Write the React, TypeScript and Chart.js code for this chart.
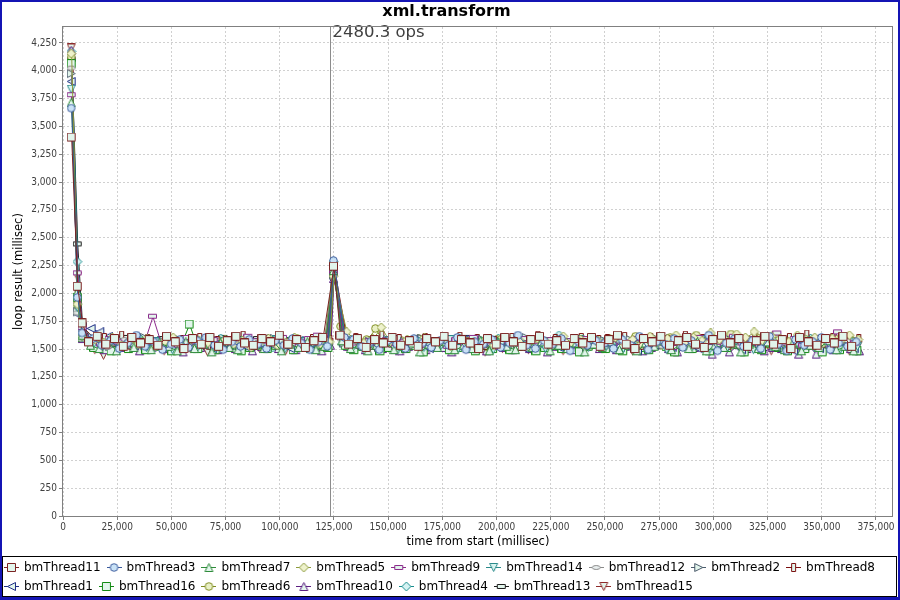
import React, { useEffect, useRef } from 'react';
import { Chart, registerables } from 'chart.js';

Chart.register(...registerables);

const TITLE = 'xml.transform';
const X_TITLE = 'time from start (millisec)';
const Y_TITLE = 'loop result (millisec)';
const MARKER_TIME = 123150;
const MARKER_LABEL = '2480.3 ops';
const X_MAX = 382850;
const Y_MAX = 4393;
const X_TICKS = [0, 25000, 50000, 75000, 100000, 125000, 150000, 175000, 200000, 225000, 250000, 275000, 300000, 325000, 350000, 375000];
const Y_TICKS = [0, 250, 500, 750, 1000, 1250, 1500, 1750, 2000, 2250, 2500, 2750, 3000, 3250, 3500, 3750, 4000, 4250];

const TIMES = [4000, 6800, 9000,
  12000, 16000, 20000, 24000, 28000, 32000, 36000, 40000, 44000, 48000, 52000, 56000, 60000, 64000,
  68000, 72000, 76000, 80000, 84000, 88000, 92000, 96000, 100000, 104000, 108000, 112000, 116000, 120000,
  125000,
  128000, 132000, 136000, 140000, 144000, 148000, 152000, 156000, 160000, 164000, 168000, 172000, 176000, 180000, 184000,
  188000, 192000, 196000, 200000, 204000, 208000, 212000, 216000, 220000, 224000, 228000, 232000, 236000, 240000, 244000,
  248000, 252000, 256000, 260000, 264000, 268000, 272000, 276000, 280000, 284000, 288000, 292000, 296000, 300000, 304000,
  308000, 312000, 316000, 320000, 324000, 328000, 332000, 336000, 340000, 344000, 348000, 352000, 356000, 360000, 364000];
// points where all threads report together (start-up peak and the spike)
const ALIGNED_INDEX = [0, 1, 2, 31];
// sampling phase of each thread (ms) in the steady part
const SERIES_PHASE = [0, 2100, 900, 3000, 1500, 2700, 600, 1800, 3300, 1200, 2400, 300, 3600, 1000, 2000, 2900];

const SERIES_NAMES = ['bmThread11', 'bmThread3', 'bmThread7', 'bmThread5', 'bmThread9', 'bmThread14', 'bmThread12', 'bmThread2',
  'bmThread8', 'bmThread1', 'bmThread16', 'bmThread6', 'bmThread10', 'bmThread4', 'bmThread13', 'bmThread15'];

const BM11 = [3400, 2060, 1730,
  1560, 1610, 1540, 1590, 1520, 1600, 1550, 1580, 1530, 1610, 1560, 1500, 1590, 1540, 1600, 1520, 1570, 1610, 1550, 1530, 1590, 1560, 1620, 1540, 1580, 1510, 1570, 1600,
  2240,
  1620, 1540, 1590, 1510, 1580, 1550, 1600, 1530, 1570, 1520, 1590, 1560, 1610, 1530, 1580, 1550, 1500, 1590, 1540, 1600, 1560, 1520, 1580, 1610, 1540, 1570, 1530, 1590, 1550, 1600,
  1520, 1580, 1620, 1540, 1500, 1590, 1560, 1610, 1530, 1570, 1600, 1540, 1510, 1580, 1620, 1550, 1590, 1520, 1570, 1610, 1540, 1580, 1500, 1600, 1560, 1530, 1590, 1550, 1610, 1520];
const BM3 = [3660, 1960, 1640,
  1590, 1530, 1570, 1500, 1550, 1620, 1520, 1560, 1490, 1540, 1580, 1510, 1570, 1600, 1530, 1490, 1560, 1520, 1580, 1540, 1500, 1570, 1530, 1590, 1550, 1490, 1560, 1520,
  2290,
  1600, 1580, 1520, 1560, 1490, 1570, 1540, 1500, 1590, 1550, 1510, 1570, 1530, 1600, 1490, 1560, 1540, 1580, 1510, 1550, 1620, 1530, 1500, 1570, 1540, 1590, 1480, 1560, 1530, 1570,
  1550, 1500, 1580, 1530, 1610, 1490, 1560, 1540, 1590, 1510, 1570, 1530, 1620, 1480, 1550, 1590, 1520, 1570, 1500, 1610, 1540, 1480, 1580, 1530, 1560, 1600, 1490, 1550, 1520, 1560];
const BM7 = [3710, 2010, 1620,
  1530, 1500, 1560, 1480, 1540, 1510, 1570, 1490, 1550, 1520, 1480, 1560, 1500, 1540, 1470, 1550, 1510, 1490, 1560, 1530, 1500, 1570, 1480, 1540, 1510, 1560, 1490, 1520,
  2200,
  1570, 1500, 1540, 1480, 1530, 1560, 1490, 1520, 1550, 1470, 1540, 1510, 1560, 1490, 1530, 1500, 1570, 1480, 1550, 1520, 1490, 1540, 1510, 1560, 1480, 1530, 1500, 1550, 1470, 1540,
  1510, 1560, 1490, 1530, 1480, 1550, 1520, 1570, 1490, 1540, 1500, 1560, 1480, 1530, 1510, 1550, 1470, 1540, 1500, 1560, 1520, 1490, 1550, 1480, 1530, 1510, 1570, 1490, 1520, 1480];
const BM5 = [4150, 1900, 1610,
  1580, 1550, 1600, 1530, 1570, 1540, 1590, 1520, 1560, 1600, 1540, 1510, 1570, 1550, 1520, 1580, 1540, 1570, 1510, 1560, 1590, 1530, 1550, 1600, 1520, 1570, 1540, 1560,
  2150,
  1650, 1580, 1550, 1590, 1690, 1560, 1530, 1580, 1550, 1600, 1540, 1570, 1520, 1590, 1560, 1540, 1580, 1530, 1600, 1550, 1570, 1520, 1590, 1560, 1540, 1610, 1550, 1580, 1530, 1570,
  1570, 1600, 1550, 1580, 1540, 1610, 1560, 1590, 1620, 1550, 1600, 1570, 1640, 1580, 1560, 1630, 1600, 1650, 1570, 1610, 1590, 1560, 1620, 1580, 1600, 1550, 1590, 1570, 1620, 1580];
const BM9 = [3780, 2180, 1690,
  1570, 1540, 1590, 1560, 1520, 1580, 1550, 1790, 1540, 1570, 1530, 1600, 1560, 1520, 1580, 1540, 1590, 1550, 1610, 1570, 1530, 1580, 1600, 1540, 1560, 1590, 1620, 1580,
  2180,
  1590, 1550, 1520, 1570, 1540, 1580, 1510, 1560, 1590, 1530, 1570, 1550, 1520, 1580, 1540, 1600, 1530, 1560, 1510, 1570, 1550, 1590, 1530, 1560, 1580, 1520, 1570, 1540, 1590, 1560,
  1540, 1580, 1520, 1560, 1590, 1530, 1570, 1550, 1510, 1580, 1540, 1600, 1560, 1520, 1570, 1610, 1550, 1590, 1530, 1570, 1640, 1550, 1590, 1530, 1560, 1600, 1540, 1650, 1570, 1550];
const BM14 = [3830, 1870, 1600,
  1550, 1520, 1570, 1500, 1540, 1580, 1510, 1560, 1530, 1490, 1550, 1570, 1520, 1540, 1500, 1560, 1530, 1570, 1510, 1550, 1520, 1580, 1500, 1540, 1560, 1520, 1550, 1530,
  2170,
  1560, 1530, 1500, 1550, 1520, 1570, 1490, 1540, 1560, 1510, 1550, 1530, 1580, 1500, 1540, 1520, 1560, 1490, 1550, 1530, 1570, 1510, 1540, 1500, 1560, 1520, 1550, 1580, 1510, 1540,
  1520, 1560, 1500, 1540, 1570, 1510, 1550, 1490, 1530, 1560, 1520, 1580, 1500, 1540, 1510, 1570, 1530, 1490, 1550, 1520, 1560, 1500, 1540, 1570, 1510, 1550, 1530, 1490, 1560, 1520];
const BM12 = [4020, 1820, 1580,
  1540, 1570, 1510, 1550, 1580, 1530, 1560, 1500, 1570, 1540, 1520, 1560, 1590, 1530, 1550, 1510, 1570, 1540, 1560, 1520, 1580, 1550, 1510, 1570, 1530, 1560, 1540, 1550,
  2210,
  1580, 1550, 1520, 1560, 1530, 1570, 1550, 1510, 1540, 1580, 1520, 1560, 1540, 1570, 1510, 1550, 1530, 1590, 1540, 1520, 1560, 1550, 1580, 1530, 1510, 1570, 1540, 1560, 1520, 1550,
  1560, 1530, 1570, 1510, 1550, 1580, 1540, 1520, 1560, 1590, 1530, 1550, 1510, 1570, 1540, 1580, 1520, 1560, 1530, 1550, 1600, 1540, 1510, 1570, 1550, 1530, 1580, 1520, 1560, 1540];
const BM2 = [3970, 1830, 1650,
  1600, 1560, 1520, 1580, 1540, 1560, 1600, 1530, 1570, 1510, 1580, 1550, 1530, 1570, 1590, 1540, 1560, 1520, 1580, 1550, 1530, 1590, 1560, 1540, 1520, 1570, 1550, 1530,
  2160,
  1550, 1570, 1530, 1560, 1510, 1580, 1540, 1560, 1530, 1590, 1550, 1520, 1570, 1540, 1560, 1510, 1580, 1550, 1530, 1570, 1540, 1600, 1520, 1560, 1550, 1580, 1530, 1570, 1510, 1550,
  1570, 1540, 1520, 1580, 1550, 1530, 1590, 1560, 1510, 1550, 1580, 1540, 1570, 1520, 1600, 1550, 1530, 1570, 1510, 1560, 1580, 1530, 1550, 1600, 1520, 1570, 1540, 1510, 1580, 1530];
const BM8 = [4000, 2000, 1700,
  1580, 1600, 1560, 1620, 1530, 1570, 1590, 1550, 1610, 1540, 1580, 1560, 1600, 1530, 1570, 1550, 1590, 1620, 1540, 1580, 1560, 1600, 1550, 1570, 1530, 1590, 1560, 1580,
  2250,
  1560, 1600, 1540, 1580, 1620, 1550, 1590, 1530, 1570, 1600, 1550, 1580, 1540, 1610, 1560, 1590, 1530, 1570, 1550, 1600, 1540, 1580, 1620, 1560, 1590, 1530, 1570, 1600, 1550, 1580,
  1590, 1550, 1610, 1570, 1530, 1600, 1560, 1580, 1540, 1620, 1570, 1590, 1550, 1600, 1530, 1580, 1560, 1610, 1540, 1590, 1560, 1600, 1540, 1630, 1570, 1550, 1600, 1580, 1540, 1590];
const BM1 = [3900, 1810, 1690,
  1680, 1650, 1610, 1580, 1560, 1530, 1570, 1510, 1550, 1590, 1520, 1560, 1540, 1580, 1500, 1550, 1530, 1570, 1510, 1560, 1590, 1530, 1550, 1500, 1570, 1540, 1580, 1560,
  2190,
  1600, 1560, 1530, 1570, 1510, 1550, 1590, 1520, 1560, 1540, 1500, 1570, 1530, 1550, 1580, 1510, 1560, 1540, 1520, 1570, 1550, 1500, 1580, 1530, 1560, 1510, 1550, 1590, 1530, 1560,
  1530, 1570, 1510, 1550, 1480, 1560, 1530, 1590, 1510, 1550, 1570, 1500, 1540, 1560, 1520, 1580, 1490, 1550, 1530, 1570, 1510, 1540, 1480, 1560, 1530, 1500, 1570, 1520, 1550, 1500];
const BM16 = [4060, 1960, 1600,
  1510, 1540, 1480, 1530, 1500, 1550, 1490, 1520, 1540, 1480, 1530, 1720, 1500, 1540, 1490, 1520, 1550, 1480, 1510, 1540, 1500, 1530, 1560, 1490, 1520, 1500, 1540, 1510,
  2230,
  1530, 1490, 1520, 1550, 1480, 1510, 1540, 1500, 1530, 1470, 1520, 1550, 1490, 1510, 1540, 1480, 1530, 1500, 1560, 1490, 1520, 1540, 1480, 1510, 1530, 1500, 1550, 1470, 1520, 1540,
  1500, 1530, 1480, 1550, 1510, 1490, 1540, 1520, 1470, 1530, 1500, 1550, 1480, 1520, 1510, 1540, 1470, 1530, 1490, 1550, 1510, 1480, 1530, 1500, 1540, 1470, 1520, 1490, 1530, 1480];
const BM6 = [4120, 1890, 1620,
  1560, 1590, 1540, 1570, 1520, 1550, 1580, 1530, 1560, 1510, 1570, 1540, 1590, 1550, 1530, 1570, 1510, 1560, 1580, 1540, 1520, 1570, 1550, 1530, 1590, 1540, 1560, 1520,
  2270,
  1700, 1560, 1540, 1580, 1680, 1550, 1520, 1570, 1540, 1590, 1530, 1560, 1580, 1520, 1550, 1570, 1540, 1510, 1580, 1550, 1530, 1570, 1540, 1590, 1520, 1560, 1550, 1580, 1530, 1560,
  1550, 1590, 1530, 1570, 1610, 1550, 1580, 1530, 1600, 1560, 1540, 1620, 1570, 1590, 1550, 1630, 1580, 1560, 1600, 1540, 1620, 1570, 1550, 1600, 1530, 1580, 1560, 1590, 1540, 1570];
const BM10 = [4180, 1940, 1590,
  1520, 1490, 1550, 1510, 1540, 1480, 1530, 1560, 1500, 1520, 1470, 1540, 1510, 1550, 1490, 1530, 1500, 1560, 1480, 1520, 1540, 1500, 1530, 1490, 1550, 1510, 1480, 1530,
  2130,
  1520, 1550, 1490, 1530, 1500, 1560, 1480, 1520, 1540, 1490, 1530, 1510, 1470, 1540, 1500, 1530, 1480, 1550, 1510, 1490, 1540, 1500, 1530, 1470, 1520, 1550, 1490, 1510, 1540, 1500,
  1530, 1490, 1520, 1550, 1480, 1510, 1540, 1500, 1470, 1530, 1510, 1550, 1450, 1520, 1470, 1540, 1500, 1530, 1480, 1510, 1500, 1530, 1450, 1540, 1450, 1520, 1490, 1530, 1500, 1480];
const BM4 = [4170, 2280, 1650,
  1570, 1530, 1560, 1590, 1540, 1510, 1570, 1550, 1520, 1580, 1540, 1560, 1500, 1570, 1530, 1590, 1550, 1520, 1560, 1540, 1580, 1510, 1550, 1570, 1530, 1560, 1500, 1540,
  2280,
  1540, 1580, 1560, 1520, 1570, 1540, 1590, 1510, 1550, 1570, 1530, 1560, 1500, 1580, 1540, 1570, 1520, 1550, 1590, 1530, 1560, 1540, 1510, 1570, 1550, 1620, 1530, 1560, 1540, 1580,
  1560, 1520, 1590, 1540, 1570, 1510, 1550, 1580, 1530, 1560, 1600, 1540, 1570, 1520, 1550, 1590, 1530, 1560, 1510, 1580, 1540, 1570, 1530, 1550, 1590, 1520, 1560, 1540, 1570, 1510];
const BM13 = [4100, 2440, 1720,
  1550, 1580, 1530, 1560, 1600, 1540, 1570, 1520, 1590, 1550, 1570, 1530, 1580, 1560, 1520, 1600, 1550, 1570, 1540, 1590, 1530, 1560, 1580, 1520, 1570, 1550, 1590, 1540,
  2260,
  1570, 1530, 1560, 1590, 1540, 1570, 1520, 1560, 1590, 1540, 1580, 1550, 1530, 1570, 1600, 1540, 1560, 1520, 1580, 1550, 1590, 1530, 1570, 1540, 1560, 1600, 1550, 1520, 1580, 1560,
  1540, 1580, 1560, 1520, 1590, 1550, 1570, 1530, 1600, 1560, 1540, 1580, 1520, 1570, 1550, 1610, 1530, 1580, 1560, 1540, 1590, 1520, 1570, 1550, 1600, 1540, 1580, 1560, 1530, 1570];
const BM15 = [4200, 2150, 1610,
  1490, 1440, 1520, 1550, 1500, 1540, 1510, 1560, 1480, 1530, 1550, 1500, 1520, 1470, 1540, 1510, 1560, 1490, 1530, 1500, 1550, 1520, 1480, 1540, 1510, 1530, 1500, 1550,
  2140,
  1520, 1560, 1500, 1540, 1510, 1550, 1480, 1530, 1560, 1500, 1520, 1540, 1490, 1550, 1510, 1530, 1470, 1540, 1500, 1560, 1520, 1490, 1540, 1510, 1550, 1480, 1530, 1500, 1540, 1520,
  1500, 1540, 1520, 1480, 1550, 1510, 1530, 1490, 1560, 1520, 1500, 1540, 1470, 1530, 1510, 1550, 1490, 1520, 1540, 1480, 1530, 1510, 1560, 1500, 1520, 1490, 1540, 1510, 1480, 1530];

const SERIES_VALUES = [BM11, BM3, BM7, BM5, BM9, BM14, BM12, BM2, BM8, BM1, BM16, BM6, BM10, BM4, BM13, BM15];

const SERIES_COLORS = ['#7b2323', '#3a5a9c', '#2e8b3a', '#8c9a3c', '#8b2a8b', '#2a8a8a', '#8a8a8a', '#4b5b6b',
  '#7a0f0f', '#1f2f86', '#138a13', '#7d8a1e', '#5c1f82', '#178c8c', '#1e1e1e', '#8e2b2b'];
const SERIES_FILLS = ['#e2f5ec', '#c9e2f6', '#e2f5ec', '#eef2cc', '#e2f5ec', '#d8f4f0', '#e8eeee', '#e2f5ec',
  '#e2f5ec', '#e2f5ec', '#e2f5ec', '#e9f0c6', '#e2f5ec', '#d6f3f3', '#e2f5ec', '#e2f5ec'];
const SERIES_SHAPES = ['square', 'circle', 'up', 'diamond', 'hrect', 'down', 'hellipse', 'right',
  'vrect', 'left', 'square', 'circle', 'up', 'diamond', 'hrect', 'down'];

const SANS = "'DejaVu Sans', sans-serif";
const TICK_FONT = "'DejaVu Sans Condensed', 'DejaVu Sans', sans-serif";

function shapePath(ctx: CanvasRenderingContext2D, shape: string, cx: number, cy: number) {
  ctx.beginPath();
  switch (shape) {
    case 'square': ctx.rect(cx - 4, cy - 4, 8, 8); break;
    case 'circle': ctx.arc(cx, cy, 3.8, 0, Math.PI * 2); break;
    case 'up': ctx.moveTo(cx, cy - 4); ctx.lineTo(cx + 4, cy + 4); ctx.lineTo(cx - 4, cy + 4); ctx.closePath(); break;
    case 'down': ctx.moveTo(cx - 4, cy - 4); ctx.lineTo(cx + 4, cy - 4); ctx.lineTo(cx, cy + 4); ctx.closePath(); break;
    case 'right': ctx.moveTo(cx - 4, cy - 4); ctx.lineTo(cx + 4, cy); ctx.lineTo(cx - 4, cy + 4); ctx.closePath(); break;
    case 'left': ctx.moveTo(cx + 4, cy - 4); ctx.lineTo(cx - 4, cy); ctx.lineTo(cx + 4, cy + 4); ctx.closePath(); break;
    case 'diamond': ctx.moveTo(cx, cy - 4.5); ctx.lineTo(cx + 4.5, cy); ctx.lineTo(cx, cy + 4.5); ctx.lineTo(cx - 4.5, cy); ctx.closePath(); break;
    case 'hrect': ctx.rect(cx - 4, cy - 2, 8, 4); break;
    case 'vrect': ctx.rect(cx - 2, cy - 4, 4, 8); break;
    case 'hellipse': ctx.ellipse(cx, cy, 4, 2, 0, 0, Math.PI * 2); break;
    default: ctx.rect(cx - 4, cy - 4, 8, 8);
  }
}

function makeMarker(shape: string, stroke: string, fill: string): HTMLCanvasElement {
  const c = document.createElement('canvas');
  c.width = 10; c.height = 10;
  const ctx = c.getContext('2d')!;
  ctx.lineWidth = 1;
  ctx.strokeStyle = stroke;
  ctx.fillStyle = fill;
  shapePath(ctx, shape, 4.5, 4.5);
  ctx.fill();
  ctx.stroke();
  return c;
}

function makeLegendIcon(shape: string, stroke: string, fill: string): HTMLCanvasElement {
  const c = document.createElement('canvas');
  c.width = 15; c.height = 10;
  const ctx = c.getContext('2d')!;
  ctx.lineWidth = 1;
  ctx.strokeStyle = stroke;
  ctx.beginPath();
  ctx.moveTo(0, 4.5); ctx.lineTo(15, 4.5);
  ctx.stroke();
  ctx.fillStyle = fill;
  shapePath(ctx, shape, 7.5, 4.5);
  ctx.fill();
  ctx.stroke();
  return c;
}

const decorPlugin = {
  id: 'decor',
  afterLayout(chart: any) {
    if (chart.legend) chart.legend.left -= 2;
  },
  beforeDraw(chart: any) {
    const ctx = chart.ctx;
    ctx.save();
    ctx.fillStyle = '#ffffff';
    ctx.fillRect(0, 0, chart.width, chart.height);
    ctx.restore();
  },
  beforeDatasetsDraw(chart: any) {
    const { ctx, chartArea: a, scales } = chart;
    const px = Math.round(scales.x.getPixelForValue(MARKER_TIME)) + 0.5;
    ctx.save();
    ctx.strokeStyle = '#8c8c8c';
    ctx.lineWidth = 1;
    ctx.beginPath();
    ctx.moveTo(px, a.top);
    ctx.lineTo(px, a.bottom);
    ctx.stroke();
    ctx.fillStyle = '#404040';
    ctx.font = `16.5px ${SANS}`;
    ctx.textAlign = 'left';
    ctx.textBaseline = 'top';
    ctx.fillText(MARKER_LABEL, px + 2, a.top - 3);
    ctx.restore();
  },
  afterDraw(chart: any) {
    const { ctx, chartArea: a } = chart;
    ctx.save();
    ctx.strokeStyle = '#808080';
    ctx.lineWidth = 1;
    ctx.strokeRect(a.left - 0.5, a.top - 0.5, a.right - a.left, a.bottom - a.top + 1);
    ctx.strokeStyle = '#000000';
    ctx.strokeRect(2.5, 556.5, 894, 40);
    ctx.strokeStyle = '#1414b4';
    ctx.lineWidth = 2;
    ctx.strokeRect(1, 1, chart.width - 2, chart.height - 2);
    ctx.fillStyle = '#1414b4';
    ctx.fillRect(0, chart.height - 3, chart.width, 3);
    ctx.restore();
  },
};

export default function App() {
  const ref = useRef<HTMLCanvasElement>(null);
  useEffect(() => {
    document.body.style.margin = '0';
    const canvas = ref.current;
    if (!canvas) return;
    const markers = SERIES_SHAPES.map((s, i) => makeMarker(s, SERIES_COLORS[i], SERIES_FILLS[i]));
    const icons = SERIES_SHAPES.map((s, i) => makeLegendIcon(s, SERIES_COLORS[i], SERIES_FILLS[i]));
    const datasets = SERIES_NAMES.map((name, i) => ({
      label: name,
      data: SERIES_VALUES[i].map((y, k) => ({
        x: TIMES[k] + (ALIGNED_INDEX.includes(k) ? 0 : SERIES_PHASE[i]),
        y,
      })),
      borderColor: SERIES_COLORS[i],
      backgroundColor: SERIES_FILLS[i],
      borderWidth: 1,
      pointStyle: markers[i],
      pointRadius: 4,
      pointHoverRadius: 4,
      tension: 0,
      fill: false,
    }));
    const chart = new Chart(canvas, {
      type: 'line',
      data: { datasets },
      plugins: [decorPlugin],
      options: {
        responsive: false,
        animation: false,
        events: [],
        layout: { padding: { left: 0, right: 7, top: 0, bottom: -3 } },
        plugins: {
          tooltip: { enabled: false },
          title: {
            display: true,
            text: TITLE,
            color: '#000000',
            font: { family: SANS, size: 16, weight: 'bold', lineHeight: 1.2 },
            padding: { top: 2.5, bottom: 5.3 },
          },
          legend: {
            display: true,
            position: 'bottom',
            align: 'start',
            labels: {
              usePointStyle: true,
              pointStyleWidth: 13,
              padding: 7,
              color: '#000000',
              font: { family: SANS, size: 12 },
              generateLabels: (ch: any) => ch.data.datasets.map((ds: any, i: number) => ({
                text: ds.label,
                pointStyle: icons[i],
                fillStyle: SERIES_FILLS[i],
                strokeStyle: SERIES_COLORS[i],
                lineWidth: 1,
                hidden: false,
                datasetIndex: i,
                fontColor: '#000000',
              })),
            },
          },
        },
        scales: {
          x: {
            type: 'linear',
            min: 0,
            max: X_MAX,
            afterFit: (s: any) => { s.height = 39; },
            afterBuildTicks: (s: any) => { s.ticks = X_TICKS.map((v) => ({ value: v })); },
            ticks: {
              autoSkip: false,
              maxRotation: 0,
              minRotation: 0,
              padding: 1,
              color: '#404040',
              font: { family: TICK_FONT, size: 10 },
              callback: (v: any) => Number(v).toLocaleString('en-US'),
            },
            grid: { color: '#d0d0d0', tickColor: '#808080', tickLength: 4, lineWidth: 1 },
            border: { display: false, dash: [2, 2] },
            title: {
              display: true,
              text: X_TITLE,
              color: '#000000',
              font: { family: SANS, size: 11.5, lineHeight: 1.2 },
              padding: { top: 1, bottom: 6 },
            },
          },
          y: {
            type: 'linear',
            min: 0,
            max: Y_MAX,
            afterFit: (s: any) => { s.width = 63; },
            afterBuildTicks: (s: any) => { s.ticks = Y_TICKS.map((v) => ({ value: v })); },
            ticks: {
              autoSkip: false,
              padding: 2,
              color: '#404040',
              font: { family: TICK_FONT, size: 10 },
              callback: (v: any) => Number(v).toLocaleString('en-US'),
            },
            grid: { color: '#d0d0d0', tickColor: '#808080', tickLength: 4, lineWidth: 1 },
            border: { display: false, dash: [2, 2] },
            title: {
              display: true,
              text: Y_TITLE,
              color: '#000000',
              font: { family: SANS, size: 11.5, lineHeight: 1.2 },
              padding: { top: 12, bottom: 2 },
            },
          },
        },
      },
    } as any);
    return () => chart.destroy();
  }, []);
  return (
    <div style={{ width: 900, height: 600, position: 'relative' }}>
      <canvas ref={ref} width={900} height={600} style={{ display: 'block' }} />
    </div>
  );
}
